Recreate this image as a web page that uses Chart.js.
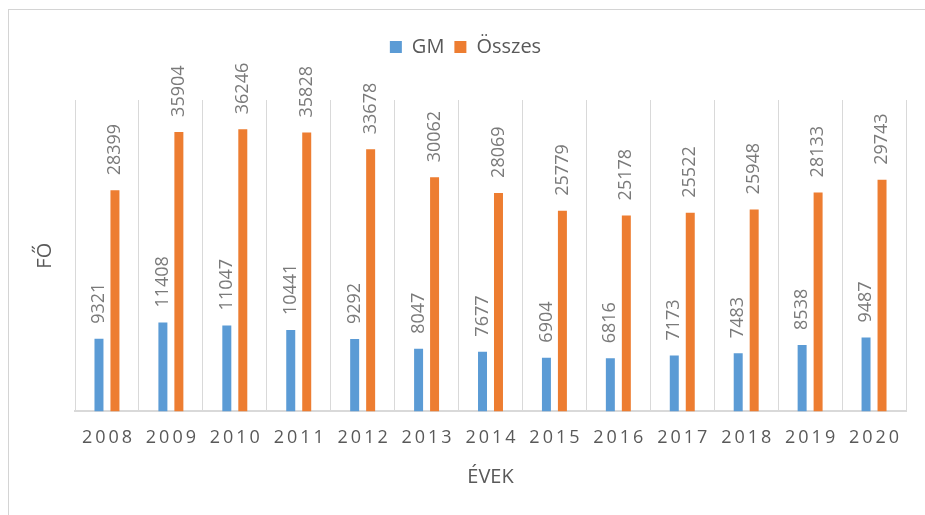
<!DOCTYPE html>
<html>
<head>
<meta charset="utf-8">
<script src="https://cdn.jsdelivr.net/npm/chart.js@4"></script>
<style>
  body { margin: 0; background: #fff; }
  .wrap { position: relative; width: 925px; height: 515px; overflow: hidden; }
  .frame { position: absolute; left: 8px; top: 9px; width: 940px; height: 530px; border: 1px solid #d4d4d4; }
  canvas { position: absolute; left: 0; top: 0; }
</style>
</head>
<body>
<div class="wrap">
  <div class="frame"></div>
  <canvas id="chart" width="925" height="515"></canvas>
</div>
<script>
const years = ["2008", "2009", "2010", "2011", "2012", "2013", "2014", "2015", "2016", "2017", "2018", "2019", "2020"];
const gmValues = [9321, 11408, 11047, 10441, 9292, 8047, 7677, 6904, 6816, 7173, 7483, 8538, 9487];
const totalValues = [28399, 35904, 36246, 35828, 33678, 30062, 28069, 25779, 25178, 25522, 25948, 28133, 29743];
const seriesNames = ["GM", "Összes"];
const yMax = 40000;

const textGrey = "#595959";
const lineGrey = "#d9d9d9";

// value labels, rotated, sitting just above each bar
const barLabels = {
  id: "barLabels",
  afterDatasetsDraw(chart) {
    const ctx = chart.ctx;
    ctx.save();
    ctx.font = "18px 'Open Sans'";
    ctx.fillStyle = "#7a7a7a";
    ctx.textAlign = "left";
    ctx.textBaseline = "middle";
    chart.data.datasets.forEach((ds, i) => {
      chart.getDatasetMeta(i).data.forEach((bar, j) => {
        ctx.save();
        ctx.translate(bar.x, bar.y - 15);
        ctx.rotate(-Math.PI / 2);
        ctx.fillText(String(ds.data[j]), 0, 0);
        ctx.restore();
      });
    });
    ctx.restore();
  },
};

new Chart(document.getElementById("chart"), {
  type: "bar",
  data: {
    labels: years,
    datasets: [
      { label: seriesNames[0], data: gmValues, backgroundColor: "#5b9bd5" },
      { label: seriesNames[1], data: totalValues, backgroundColor: "#ed7d31" },
    ],
  },
  options: {
    responsive: false,
    animation: false,
    layout: { padding: { left: 25, right: 19, top: 27, bottom: 22 } },
    datasets: { bar: { categoryPercentage: 0.5, barPercentage: 0.5625 } },
    plugins: {
      tooltip: { enabled: false },
      legend: {
        position: "top",
        labels: {
          color: textGrey,
          font: { family: "'Open Sans'", size: 20 },
          boxWidth: 12,
          boxHeight: 12,
          padding: 10,
        },
      },
      // empty spacer between legend and plot
      title: {
        display: true,
        text: "",
        weight: 500,
        font: { size: 1, lineHeight: 1 },
        padding: { top: 32, bottom: 0 },
      },
    },
    scales: {
      x: {
        grid: { color: lineGrey, lineWidth: 1, drawTicks: false },
        border: { color: lineGrey, width: 2 },
        ticks: {
          color: textGrey,
          font: { family: "'Open Sans'", size: 18 },
          padding: 16,
          maxRotation: 0,
          autoSkip: false,
          callback: (v, i) => years[i].split("").join("\u2009"),
        },
        title: {
          display: true,
          text: "ÉVEK",
          color: textGrey,
          font: { family: "'Open Sans'", size: 20 },
          padding: { top: 0, bottom: 4 },
        },
      },
      y: {
        min: 0,
        max: yMax,
        grid: { display: false, drawTicks: false },
        border: { display: false },
        ticks: { display: false },
        title: {
          display: true,
          text: "FŐ",
          color: textGrey,
          font: { family: "'Open Sans'", size: 20 },
          padding: { top: 8, bottom: 18 },
        },
      },
    },
  },
  plugins: [barLabels],
});
</script>
</body>
</html>
